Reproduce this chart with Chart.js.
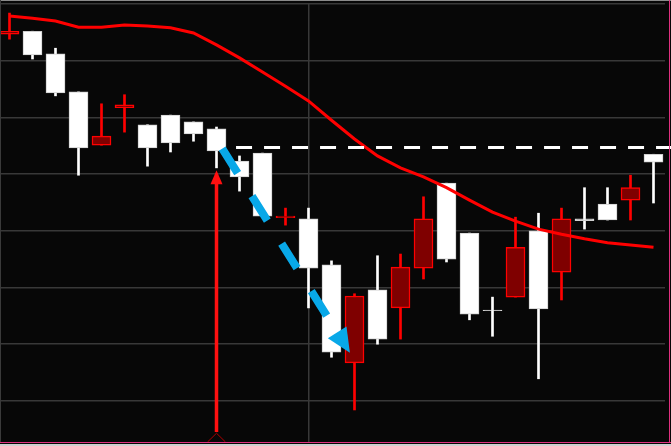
<!DOCTYPE html>
<html>
<head>
<meta charset="utf-8">
<script src="https://cdn.jsdelivr.net/npm/chart.js@4/dist/chart.umd.min.js"></script>
<style>
  html,body{margin:0;padding:0;background:#070707;width:671px;height:446px;overflow:hidden;position:relative;}
  #c{position:absolute;left:-2px;top:0;}
  .f{position:absolute;}
</style>
</head>
<body>
<canvas id="c" width="673" height="446"></canvas>
<div class="f" style="left:0;top:0;width:671px;height:1px;background:#8a8a8a;"></div>
<div class="f" style="left:0;top:0;width:1px;height:442px;background:#3a3a3a;"></div>
<div class="f" style="left:0;top:442px;width:671px;height:1px;background:#e0307f;"></div>
<div class="f" style="left:0;top:443px;width:671px;height:1px;background:#070707;"></div>
<div class="f" style="left:0;top:444px;width:671px;height:2px;background:#cfcfcf;"></div>
<div class="f" style="left:669px;top:0;width:1px;height:443px;background:#e0307f;"></div>
<script>
// ---- data ----
const labels = ['1','2','3','4','5','6','7','8','9','10','11','12','13','14','15','16','17','18','19','20','21','22','23','24','25','26','27','28','29'];
const opens  = [27.47,27.52,27.12,26.45,25.51,26.17,25.87,26.04,25.92,25.80,25.23,25.37,24.23,24.21,23.40,21.67,22.96,22.64,23.34,24.84,23.96,22.60,22.83,24.00,23.27,24.21,24.47,24.54,25.35];
const highs  = [27.84,27.52,27.22,26.45,26.24,26.40,25.87,26.04,25.92,25.83,25.32,25.37,24.40,24.40,23.47,22.89,23.56,23.59,24.60,24.84,23.96,22.83,24.24,24.31,24.40,24.76,24.76,24.98,25.35];
const lows   = [27.38,27.03,26.38,24.98,25.51,25.74,25.14,25.39,25.58,25.11,24.70,24.26,24.10,22.64,21.77,20.84,22.00,22.09,23.15,23.45,22.43,22.14,22.83,21.39,22.78,24.03,24.19,24.19,24.49];
const closes = [27.52,27.10,26.43,25.46,25.67,26.22,25.46,25.55,25.71,25.41,24.95,24.26,24.26,23.34,21.86,22.85,22.09,23.36,24.21,23.50,22.53,22.59,23.71,22.62,24.21,24.18,24.19,24.76,25.21];
const maLine = [27.79,27.75,27.70,27.59,27.59,27.63,27.61,27.58,27.49,27.28,27.05,26.80,26.55,26.29,25.95,25.62,25.32,25.11,24.95,24.76,24.54,24.33,24.17,24.03,23.94,23.86,23.79,23.75,23.71];
// annotations (category index, price)
const levelLine = {fromIndex: 9.85, price: 25.47};
const blueArrow = {fromIndex: 9.25, fromPrice: 25.45, toIndex: 14.80, toPrice: 21.85};
const redArrow  = {index: 9, fromPrice: 20.45, toPrice: 25.07};
const caret     = {index: 9, halfWidth: 0.39, basePrice: 20.275, apexPrice: 20.43};
const gridIndex = 13;

const isUp = opens.map((o,i)=>closes[i] >= o);
const bodies = opens.map((o,i)=>[o, closes[i]]);
const wicks = lows.map((l,i)=>[l, highs[i]]);

const annot = {
  id:'annot',
  afterDatasetsDraw(chart){
    const {ctx, scales:{x,y}} = chart;
    ctx.save();
    // white dashed level
    ctx.strokeStyle='#ffffff'; ctx.lineWidth=3; ctx.setLineDash([16,12]);
    const ly = y.getPixelForValue(levelLine.price);
    ctx.beginPath(); ctx.moveTo(x.getPixelForValue(levelLine.fromIndex), ly); ctx.lineTo(chart.width, ly); ctx.stroke();
    ctx.setLineDash([]);
    // blue dashed arrow
    const x0 = x.getPixelForValue(blueArrow.fromIndex), y0 = y.getPixelForValue(blueArrow.fromPrice);
    const x1 = x.getPixelForValue(blueArrow.toIndex), y1 = y.getPixelForValue(blueArrow.toPrice);
    const dx = x1-x0, dy = y1-y0, len = Math.hypot(dx,dy), ux = dx/len, uy = dy/len;
    const headL = 24, headW = 11;
    const bx = x1-ux*headL, by = y1-uy*headL;
    ctx.strokeStyle='#08a8e8'; ctx.fillStyle='#08a8e8'; ctx.lineWidth=8; ctx.lineCap='butt';
    ctx.setLineDash([29,27]);
    ctx.beginPath(); ctx.moveTo(x0,y0); ctx.lineTo(bx,by); ctx.stroke();
    ctx.setLineDash([]);
    ctx.beginPath();
    ctx.moveTo(x1,y1);
    ctx.lineTo(bx - uy*headW, by + ux*headW);
    ctx.lineTo(bx + uy*headW, by - ux*headW);
    ctx.closePath(); ctx.fill();
    // red vertical arrow
    const rx = x.getPixelForValue(redArrow.index);
    const rb = y.getPixelForValue(redArrow.fromPrice), rt = y.getPixelForValue(redArrow.toPrice);
    ctx.strokeStyle='#ff1010'; ctx.fillStyle='#ff1010'; ctx.lineWidth=3.5;
    ctx.beginPath(); ctx.moveTo(rx, rb); ctx.lineTo(rx, rt+12); ctx.stroke();
    ctx.beginPath(); ctx.moveTo(rx, rt); ctx.lineTo(rx-6, rt+14); ctx.lineTo(rx+6, rt+14); ctx.closePath(); ctx.fill();
    // caret marker
    ctx.strokeStyle='#b00000'; ctx.lineWidth=1;
    ctx.beginPath();
    ctx.moveTo(x.getPixelForValue(caret.index-caret.halfWidth), y.getPixelForValue(caret.basePrice));
    ctx.lineTo(x.getPixelForValue(caret.index), y.getPixelForValue(caret.apexPrice));
    ctx.lineTo(x.getPixelForValue(caret.index+caret.halfWidth), y.getPixelForValue(caret.basePrice));
    ctx.stroke();
    ctx.restore();
  }
};

new Chart(document.getElementById('c'), {
  type:'bar',
  data:{
    labels,
    datasets:[
      {type:'line', data: maLine, borderColor:'#ff0000', borderWidth:3, pointRadius:0, tension:0, order:0},
      {data: bodies, backgroundColor: isUp.map(u=>u?'#7f0000':'#ffffff'),
        borderColor: isUp.map(u=>u?'#ff0000':'#cfcfcf'), borderWidth: isUp.map(u=>u?1.5:1),
        borderSkipped:false, barThickness:19, grouped:false, order:1},
      {data: wicks, backgroundColor: isUp.map(u=>u?'#ff0000':'#ffffff'), borderWidth:0,
        barThickness:2, grouped:false, order:2}
    ]
  },
  options:{
    responsive:false, animation:false,
    layout:{padding:{top:4,bottom:4,left:0,right:6}},
    plugins:{legend:{display:false}, tooltip:{enabled:false}},
    scales:{
      x:{ticks:{display:false}, border:{display:false},
         grid:{offset:false, drawTicks:false, lineWidth:1.5, color: c => c.index===gridIndex ? '#383838' : 'rgba(0,0,0,0)'}},
      y:{min:20.275, max:28, ticks:{display:false, stepSize:1, includeBounds:false}, border:{display:false},
         grid:{drawTicks:false, lineWidth:1.5, color:'#383838'}}
    }
  },
  plugins:[annot]
});
</script>
</body>
</html>
